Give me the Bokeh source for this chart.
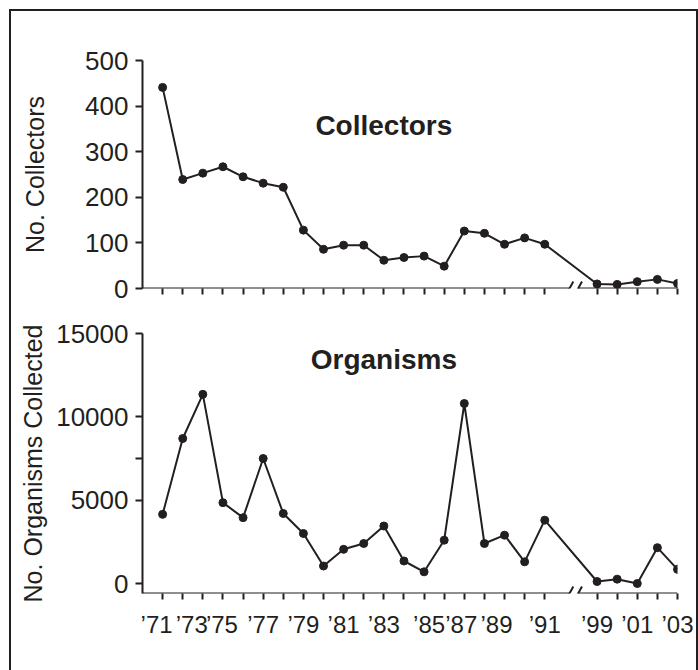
from bokeh.plotting import figure
from bokeh.layouts import column
from bokeh.models import FixedTicker, Range1d, Label, Arrow
from bokeh.embed import file_html
from bokeh.resources import INLINE

# ---------------- data ----------------
years = [1972, 1973, 1974, 1975, 1976, 1977, 1978, 1979, 1980, 1981,
         1982, 1983, 1984, 1985, 1986, 1987, 1988, 1989, 1990, 1991,
         1999, 2000, 2001, 2002, 2003]
collectors = [441, 239, 253, 267, 245, 231, 222, 128, 86, 95,
              95, 62, 68, 71, 49, 126, 121, 97, 111, 97,
              10, 9, 15, 20, 11]
organisms = [4150, 8700, 11350, 4850, 3950, 7500, 4200, 3000, 1050, 2050,
             2400, 3450, 1350, 700, 2600, 10800, 2400, 2900, 1300, 3800,
             120, 260, 0, 2150, 850]

label_years = [1971, 1973, 1975, 1977, 1979, 1981, 1983, 1985, 1987, 1989, 1991,
               1999, 2001, 2003]
label_texts = ["\u201971", "\u201973", "\u201975", "\u201977", "\u201979", "\u201981",
               "\u201983", "\u201985", "\u201987", "\u201989", "\u201991",
               "\u201999", "\u201901", "\u201903"]
collector_ticks = [0, 100, 200, 300, 400, 500]
organism_ticks = [0, 5000, 7500, 10000, 15000]
organism_tick_labels = ["0", "5000", "", "10000", "15000"]

# ---------------- layout / styling constants ----------------
FIRST_YEAR = 1971
GAP_AFTER = 1991
RESUME_YEAR = 1999
RESUME_POS = 22.6
X_END = 26.6
BREAK_L, BREAK_R = 21.23, 21.66
# small horizontal nudges of some year labels (as in the original artwork)
LABEL_NUDGE = {1971: 0.7, 1973: 0.45, 1975: -0.05, 1985: 0.25, 1987: -0.15, 1989: -0.4}


def pos(y):
    return y - FIRST_YEAR if y <= GAP_AFTER else RESUME_POS + (y - RESUME_YEAR)


xs = [pos(y) for y in years]
label_pos = [pos(y) + LABEL_NUDGE.get(y, 0.0) for y in label_years]
minor_pos = [pos(y) for y in years]

INK = "#231f20"
FONT = "Liberation Sans"


def make_fig(height, ymin, ymax, border_top, border_bottom):
    p = figure(width=685, height=height, output_backend="svg", toolbar_location=None,
               x_range=Range1d(0, X_END), y_range=Range1d(ymin, ymax),
               min_border_left=131, min_border_right=19,
               min_border_top=border_top, min_border_bottom=border_bottom)
    p.outline_line_color = None
    p.grid.grid_line_color = None
    p.background_fill_color = "white"
    p.border_fill_color = "white"
    for ax in (p.xaxis[0], p.yaxis[0]):
        ax.axis_line_color = INK
        ax.axis_line_width = 2
        ax.major_tick_line_color = INK
        ax.major_tick_line_width = 2
        ax.minor_tick_line_color = INK
        ax.minor_tick_line_width = 2
        ax.major_label_text_font = FONT
        ax.major_label_text_color = INK
        ax.axis_label_text_font = FONT
        ax.axis_label_text_color = INK
        ax.axis_label_text_font_style = "normal"
    # x axis: minor ticks at every year, labels at odd years
    xa = p.xaxis[0]
    xa.ticker = FixedTicker(ticks=label_pos, minor_ticks=minor_pos)
    xa.major_label_overrides = {float(k): t for k, t in zip(label_pos, label_texts)}
    xa.major_tick_out = 0
    xa.major_tick_in = 0
    xa.minor_tick_out = 6
    xa.minor_tick_in = 0
    xa.major_label_text_font_size = "24px"
    xa.axis_line_color = None
    ya = p.yaxis[0]
    ya.major_tick_out = 7
    ya.major_tick_in = 0
    ya.minor_tick_line_color = None
    ya.major_label_text_font_size = "26px"
    ya.major_label_standoff = 7
    ya.axis_label_text_font_size = "25px"
    return p


def add_axis_with_break(p, ybase, half_h):
    # x axis line drawn in two pieces with a "//" break
    for a, b in ((0, BREAK_L), (BREAK_R, X_END)):
        p.add_layout(Arrow(end=None, x_start=a, y_start=ybase, x_end=b, y_end=ybase,
                           line_color=INK, line_width=2))
    for c in (BREAK_L, BREAK_R):
        p.add_layout(Arrow(end=None, x_start=c - 0.19, y_start=ybase - half_h,
                           x_end=c + 0.19, y_end=ybase + half_h,
                           line_color=INK, line_width=2))


def add_title(p, x, y, text):
    p.add_layout(Label(x=x, y=y, text=text, text_font=FONT, text_font_size="28px",
                       text_font_style="bold", text_color=INK,
                       text_align="center", text_baseline="middle"))


# ---------------- top panel ----------------
p1 = make_fig(297, 0, 500, 49, 20)
p1.yaxis[0].ticker = FixedTicker(ticks=collector_ticks)
p1.yaxis[0].axis_label = "No. Collectors"
p1.yaxis[0].axis_label_standoff = 33
p1.xaxis[0].major_label_text_color = None
p1.line(xs, collectors, line_color=INK, line_width=2)
p1.scatter(xs, collectors, marker="circle", size=8, fill_color=INK, line_color=INK)
add_axis_with_break(p1, 0, 15.4)
add_title(p1, 12, 357, "Collectors")

# ---------------- bottom panel ----------------
p2 = make_fig(362, -600, 15000, 25, 77)
p2.yaxis[0].ticker = FixedTicker(ticks=organism_ticks)
p2.yaxis[0].major_label_overrides = {k: t for k, t in zip(organism_ticks, organism_tick_labels)}
p2.yaxis[0].axis_label = "No. Organisms Collected"
p2.yaxis[0].axis_label_standoff = 6
p2.xaxis[0].major_label_standoff = 11
p2.line(xs, organisms, line_color=INK, line_width=2)
p2.scatter(xs, organisms, marker="circle", size=8, fill_color=INK, line_color=INK)
add_axis_with_break(p2, -600, 420)
add_title(p2, 12, 13450, "Organisms")

layout = column(p1, p2, spacing=0,
                styles={"margin-left": "9px", "margin-top": "9px",
                        "border-top": "2px solid " + INK, "border-left": "2px solid " + INK,
                        "border-right": "2px solid " + INK})

open("out.html", "w").write(file_html(layout, INLINE))
